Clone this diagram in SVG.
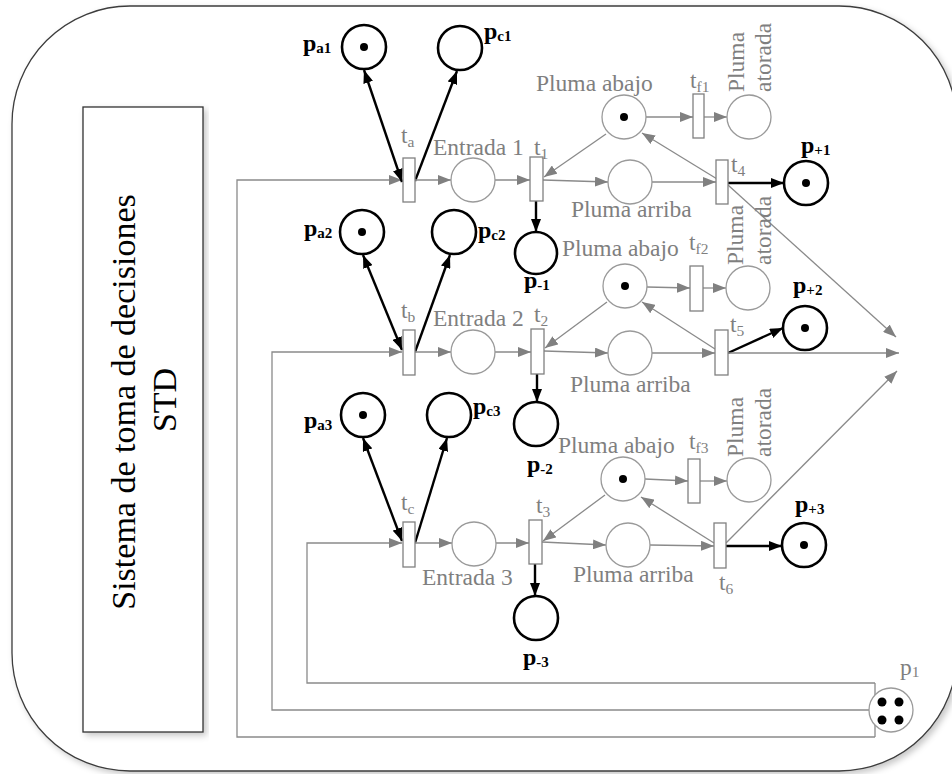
<svg xmlns="http://www.w3.org/2000/svg" width="952" height="774" viewBox="0 0 952 774">
<style>
text{font-family:"Liberation Serif","Times New Roman",serif}
.g{font-size:23.5px;fill:#7f7f7f}
.b{font-size:24px;font-weight:bold;fill:#000}
.sb{font-size:15px}
.sg{font-size:15.5px}
.gp{fill:#fff;stroke:#9a9a9a;stroke-width:1.3}
.bp{fill:#fff;stroke:#000;stroke-width:2.6}
.tr{fill:#fff;stroke:#808080;stroke-width:1.3}
.tk{fill:#000}
.gl{fill:none;stroke:#8a8a8a;stroke-width:1.3;marker-end:url(#ga)}
.gn{fill:none;stroke:#8a8a8a;stroke-width:1.3}
.bl{fill:none;stroke:#000;stroke-width:2.4;marker-end:url(#ba)}
.bd{fill:none;stroke:#000;stroke-width:2.4;marker-end:url(#ba);marker-start:url(#ba)}
</style>
<defs>
<marker id="ga" markerUnits="userSpaceOnUse" markerWidth="13" markerHeight="10" refX="13" refY="5" orient="auto-start-reverse"><path d="M0,0 L13,5 L0,10 z" fill="#808080"/></marker>
<marker id="ba" markerUnits="userSpaceOnUse" markerWidth="13" markerHeight="10" refX="13" refY="5" orient="auto-start-reverse"><path d="M0,0 L13,5 L0,10 z" fill="#000"/></marker>
<filter id="sh" x="-5%" y="-5%" width="110%" height="110%"><feDropShadow dx="3" dy="3" stdDeviation="3" flood-color="#000" flood-opacity="0.22"/></filter>
</defs>
<rect width="952" height="774" fill="#fff"/>
<g id="frame">
<rect x="12" y="6" width="945" height="765" rx="118" ry="118" fill="#fff" stroke="#3c3c3c" stroke-width="1.3" filter="url(#sh)"/>
</g>
<g id="std">
<rect x="83" y="107" width="120" height="625" fill="#fff" stroke="#333" stroke-width="1.3" filter="url(#sh)"/>
<text transform="translate(135,402) rotate(-90)" text-anchor="middle" style="font-size:34px;fill:#000">Sistema de toma de decisiones</text>
<text transform="translate(176,400) rotate(-90)" text-anchor="middle" style="font-size:34px;fill:#000">STD</text>
</g>
<g id="connectors">
<path class="gl" d="M875,737 H237 V180 H402"/>
<path class="gl" d="M869,710 H272 V352 H402"/>
<path class="gl" d="M875,683 H307 V543 H402"/>
<path class="gn" d="M875,683 V737"/>
<path class="bd" d="M364,70 L402,182"/>
<path class="bl" d="M415,181 L457,71"/>
<path class="bd" d="M363,255 L402,350"/>
<path class="bl" d="M415,352 L450,255"/>
<path class="bd" d="M363,438 L402,541"/>
<path class="bl" d="M415,543 L447,438"/>
<path class="gl" d="M415,180 L451,180"/>
<path class="gl" d="M415,352 L451,352"/>
<path class="gl" d="M415,543 L452,543"/>
<path class="gl" d="M495,180 L530,180"/>
<path class="gl" d="M495,352 L531,352"/>
<path class="gl" d="M496,543 L529,543"/>
<path class="gl" d="M606,134 L544,177"/>
<path class="gl" d="M543,180 L608,182"/>
<path class="gl" d="M652,182 L716,182"/>
<path class="gl" d="M722,182 L642,133"/>
<path class="gl" d="M728,185 L896,337"/>
<path class="bl" d="M728,183 L784,183"/>
<path class="gl" d="M646,117 L693,117"/>
<path class="gl" d="M704,117 L727,117"/>
<path class="bl" d="M536,201 L536,232"/>
<path class="gl" d="M607,302 L545,348"/>
<path class="gl" d="M544,351 L608,353"/>
<path class="gl" d="M652,353 L715,353"/>
<path class="gl" d="M715,349 L642,302"/>
<path class="bl" d="M728,353 L783,328"/>
<path class="gl" d="M728,353 L899,353"/>
<path class="gl" d="M647,287 L690,288"/>
<path class="gl" d="M703,288 L726,288"/>
<path class="bl" d="M537,374 L537,402"/>
<path class="gl" d="M605,495 L543,541"/>
<path class="gl" d="M542,542 L606,545"/>
<path class="gl" d="M650,545 L714,546"/>
<path class="gl" d="M714,543 L641,497"/>
<path class="bl" d="M726,546 L782,546"/>
<path class="gl" d="M726,543 L897,371"/>
<path class="gl" d="M645,479 L688,481"/>
<path class="gl" d="M700,481 L727,481"/>
<path class="bl" d="M535,564 L535,596"/>
</g>
<g id="pa1"><circle class="bp" cx="364" cy="47" r="22"/><circle class="tk" cx="364" cy="47" r="4"/><text class="b" x="303" y="51">p<tspan class="sb" dy="2">a1</tspan></text></g>
<g id="pc1"><circle class="bp" cx="460" cy="48" r="22"/><text class="b" x="484" y="39">p<tspan class="sb" dy="2">c1</tspan></text></g>
<g id="pa2"><circle class="bp" cx="362" cy="232" r="22"/><circle class="tk" cx="362" cy="232" r="4"/><text class="b" x="304" y="236">p<tspan class="sb" dy="2">a2</tspan></text></g>
<g id="pc2"><circle class="bp" cx="454" cy="232" r="22"/><text class="b" x="478" y="238">p<tspan class="sb" dy="2">c2</tspan></text></g>
<g id="pa3"><circle class="bp" cx="363" cy="415" r="22"/><circle class="tk" cx="363" cy="415" r="4"/><text class="b" x="304" y="428">p<tspan class="sb" dy="2">a3</tspan></text></g>
<g id="pc3"><circle class="bp" cx="449" cy="415" r="22"/><text class="b" x="473" y="414">p<tspan class="sb" dy="2">c3</tspan></text></g>
<g id="ta"><rect class="tr" x="403" y="158" width="12" height="44"/><text class="g" x="401" y="143">t<tspan class="sg" dy="4">a</tspan></text></g>
<g id="tb"><rect class="tr" x="403" y="330" width="12" height="45"/><text class="g" x="401" y="318">t<tspan class="sg" dy="4">b</tspan></text></g>
<g id="tc"><rect class="tr" x="403" y="522" width="12" height="45"/><text class="g" x="401" y="510">t<tspan class="sg" dy="4">c</tspan></text></g>
<g id="e1"><circle class="gp" cx="473" cy="180" r="22"/><text class="g" x="433" y="155">Entrada 1</text></g>
<g id="e2"><circle class="gp" cx="473" cy="352" r="22"/><text class="g" x="433" y="326">Entrada 2</text></g>
<g id="e3"><circle class="gp" cx="474" cy="544" r="22"/><text class="g" x="422" y="585">Entrada 3</text></g>
<g id="t1"><rect class="tr" x="530" y="157" width="13" height="44"/><text class="g" x="534" y="155">t<tspan class="sg" dy="4">1</tspan></text></g>
<g id="t2"><rect class="tr" x="531" y="329" width="13" height="45"/><text class="g" x="534" y="322">t<tspan class="sg" dy="4">2</tspan></text></g>
<g id="t3"><rect class="tr" x="529" y="520" width="13" height="44"/><text class="g" x="536" y="513">t<tspan class="sg" dy="4">3</tspan></text></g>
<g id="pm1"><circle class="bp" cx="536" cy="253" r="21"/><text class="b" x="524" y="288">p<tspan class="sb" dy="2">-1</tspan></text></g>
<g id="pm2"><circle class="bp" cx="536" cy="424" r="22"/><text class="b" x="527" y="472">p<tspan class="sb" dy="2">-2</tspan></text></g>
<g id="pm3"><circle class="bp" cx="536" cy="618" r="22"/><text class="b" x="523" y="665">p<tspan class="sb" dy="2">-3</tspan></text></g>
<g id="ab1"><circle class="gp" cx="624" cy="117" r="22"/><circle class="tk" cx="624" cy="117" r="4"/><text class="g" x="536" y="91">Pluma abajo</text></g>
<g id="ab2"><circle class="gp" cx="625" cy="286" r="22"/><circle class="tk" cx="625" cy="286" r="4"/><text class="g" x="562" y="256">Pluma abajo</text></g>
<g id="ab3"><circle class="gp" cx="623" cy="479" r="22"/><circle class="tk" cx="623" cy="479" r="4"/><text class="g" x="558" y="453">Pluma abajo</text></g>
<g id="ar1"><circle class="gp" cx="630" cy="182" r="22"/><text class="g" x="571" y="217">Pluma arriba</text></g>
<g id="ar2"><circle class="gp" cx="630" cy="353" r="22"/><text class="g" x="570" y="392">Pluma arriba</text></g>
<g id="ar3"><circle class="gp" cx="628" cy="545" r="22"/><text class="g" x="573" y="582">Pluma arriba</text></g>
<g id="tf1"><rect class="tr" x="693" y="94" width="11" height="44"/><text class="g" x="690" y="88">t<tspan class="sg" dy="4">f1</tspan></text></g>
<g id="tf2"><rect class="tr" x="690" y="266" width="13" height="45"/><text class="g" x="689" y="250">t<tspan class="sg" dy="4">f2</tspan></text></g>
<g id="tf3"><rect class="tr" x="688" y="459" width="12" height="44"/><text class="g" x="689" y="449">t<tspan class="sg" dy="4">f3</tspan></text></g>
<g id="at1"><circle class="gp" cx="749" cy="117" r="22"/><text class="g" transform="translate(744,92) rotate(-90)">Pluma</text><text class="g" transform="translate(771,92) rotate(-90)">atorada</text></g>
<g id="at2"><circle class="gp" cx="748" cy="288" r="22"/><text class="g" transform="translate(743,265) rotate(-90)">Pluma</text><text class="g" transform="translate(771,265) rotate(-90)">atorada</text></g>
<g id="at3"><circle class="gp" cx="749" cy="480" r="22"/><text class="g" transform="translate(743,457) rotate(-90)">Pluma</text><text class="g" transform="translate(771,457) rotate(-90)">atorada</text></g>
<g id="t4"><rect class="tr" x="716" y="160" width="12" height="44"/><text class="g" x="731" y="172">t<tspan class="sg" dy="4">4</tspan></text></g>
<g id="t5"><rect class="tr" x="715" y="330" width="13" height="45"/><text class="g" x="730" y="332">t<tspan class="sg" dy="4">5</tspan></text></g>
<g id="t6"><rect class="tr" x="714" y="523" width="12" height="45"/><text class="g" x="719" y="590">t<tspan class="sg" dy="4">6</tspan></text></g>
<g id="pp1"><circle class="bp" cx="806" cy="183" r="22"/><circle class="tk" cx="806" cy="183" r="4"/><text class="b" x="801" y="153">p<tspan class="sb" dy="2">+1</tspan></text></g>
<g id="pp2"><circle class="bp" cx="805" cy="328" r="22"/><circle class="tk" cx="805" cy="328" r="4"/><text class="b" x="793" y="293">p<tspan class="sb" dy="2">+2</tspan></text></g>
<g id="pp3"><circle class="bp" cx="804" cy="545" r="22"/><circle class="tk" cx="804" cy="545" r="4"/><text class="b" x="795" y="512">p<tspan class="sb" dy="2">+3</tspan></text></g>
<g id="p1"><circle class="gp" cx="891" cy="710" r="22"/><circle class="tk" cx="882" cy="702" r="4.5"/><circle class="tk" cx="899" cy="702" r="4.5"/><circle class="tk" cx="882" cy="720" r="4.5"/><circle class="tk" cx="899" cy="720" r="4.5"/><text class="g" x="900" y="675">p<tspan class="sg" dy="2">1</tspan></text></g>
</svg>
